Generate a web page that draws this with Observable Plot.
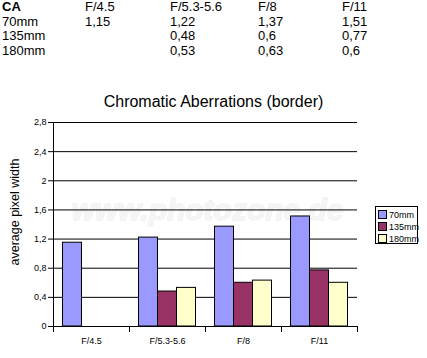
<!DOCTYPE html>
<html><head><meta charset="utf-8">
<script src="https://cdn.jsdelivr.net/npm/d3@7"></script>
<script src="https://cdn.jsdelivr.net/npm/@observablehq/plot@0.6"></script>
<style>
body{margin:0;background:#fff;font-family:"Liberation Sans",Arial,sans-serif;color:#000;}
#wrap{position:relative;width:427px;height:358px;overflow:hidden;}
#table{position:absolute;left:0;top:0;width:427px;font-size:13px;line-height:14.5px;}
#table .row{position:relative;height:14.5px;}
#table span{position:absolute;top:0;white-space:nowrap;}
#table .c0{left:2px}#table .c1{left:85px}#table .c2{left:170px}#table .c3{left:258px}#table .c4{left:342px}
#table .head .c0{font-weight:bold}
#title{position:absolute;left:0;top:93px;width:427px;text-align:center;font-size:16px;line-height:18px;}
#chart{position:absolute;left:0;top:110px;}
#ylabel{position:absolute;left:15px;top:212px;transform:translate(-50%,-50%) rotate(-90deg);font-size:12.5px;line-height:14px;white-space:nowrap;}
#legend{position:absolute;left:375px;top:206px;width:41px;height:36px;border:1px solid #000;background:#fff;font-size:9px;}
#legend .item{position:absolute;left:2px;height:12px;line-height:10px;white-space:nowrap;}
#legend .sw{display:inline-block;width:7px;height:7px;border:1px solid #000;vertical-align:top;margin-right:2px;}
</style></head><body>
<div id="wrap">
  <div id="table"></div>
  <div id="title"></div>
  <div id="chart"></div>
  <div id="ylabel"></div>
  <div id="legend"></div>
</div>
<script>
const apertures = ["F/4.5", "F/5.3-5.6", "F/8", "F/11"];
const focals = ["70mm", "135mm", "180mm"];
const ca70 = [1.15, 1.22, 1.37, 1.51];
const ca135 = [null, 0.48, 0.6, 0.77];
const ca180 = [null, 0.53, 0.63, 0.6];
const colors = ["#9999ff", "#993366", "#ffffcc"];
const yTicks = [0, 0.4, 0.8, 1.2, 1.6, 2, 2.4, 2.8];
const yTickLabels = ["0", "0,4", "0,8", "1,2", "1,6", "2", "2,4", "2,8"];
const tableHeader = "CA";
const titleText = "Chromatic Aberrations (border)";
const yLabel = "average pixel width";
const watermark = "www.photozone.de";

const series = [ca70, ca135, ca180];
const fmt = v => v == null ? "" : String(v).replace(".", ",");

// table
const table = document.getElementById("table");
const headRow = document.createElement("div");
headRow.className = "row head";
[tableHeader, ...apertures].forEach((t, k) => {
  const s = document.createElement("span"); s.className = "c" + k; s.textContent = t; headRow.appendChild(s);
});
table.appendChild(headRow);
focals.forEach((f, j) => {
  const r = document.createElement("div"); r.className = "row";
  [f, ...series[j].map(fmt)].forEach((t, k) => {
    const s = document.createElement("span"); s.className = "c" + k; s.textContent = t; r.appendChild(s);
  });
  table.appendChild(r);
});
document.getElementById("title").textContent = titleText;
document.getElementById("ylabel").textContent = yLabel;

// data rows
const rows = [];
apertures.forEach((a, i) => focals.forEach((f, j) => {
  const v = series[j][i];
  if (v != null) rows.push({aperture: a, focal: f, i, j, v});
}));

const chart = Plot.plot({
  width: 427, height: 248,
  marginLeft: 53, marginRight: 70, marginTop: 12, marginBottom: 32,
  style: {fontFamily: "'Liberation Sans', Arial, sans-serif", fontSize: "9px", color: "black", background: "white"},
  x: {domain: [0, apertures.length]},
  y: {domain: [0, 2.8]},
  color: {domain: focals, range: colors},
  marks: [
    Plot.text([watermark], {frameAnchor: "middle", dy: -14, dx: 2, fontSize: 30, fontWeight: "bold", fontStyle: "italic", fill: "#f5f5f5", stroke: "#ebebeb", strokeWidth: 0.8}),
    Plot.ruleY(yTicks, {stroke: "black"}),
    Plot.ruleX([0], {stroke: "black"}),
    Plot.rectY(rows, {
      x1: d => d.i + 0.125 + d.j * 0.25,
      x2: d => d.i + 0.125 + (d.j + 1) * 0.25,
      y: "v", fill: "focal", stroke: "black", strokeWidth: 1
    }),
    Plot.axisY({ticks: yTicks, tickFormat: d => yTickLabels[yTicks.indexOf(d)], tickSize: 5, tickPadding: 2, label: null}),
    Plot.axisX({ticks: d3.range(apertures.length + 1), tickSize: 6, tickFormat: () => "", label: null}),
    Plot.axisX({ticks: apertures.map((a, i) => i + 0.5), tickSize: 0, tickPadding: 11, tickFormat: d => apertures[Math.floor(d)], label: null})
  ]
});
document.getElementById("chart").appendChild(chart);

// legend
const legend = document.getElementById("legend");
focals.forEach((f, j) => {
  const it = document.createElement("div"); it.className = "item"; it.style.top = (3 + j * 12) + "px";
  const sw = document.createElement("span"); sw.className = "sw"; sw.style.background = colors[j];
  it.appendChild(sw); it.appendChild(document.createTextNode(f));
  legend.appendChild(it);
});
</script>
</body></html>
